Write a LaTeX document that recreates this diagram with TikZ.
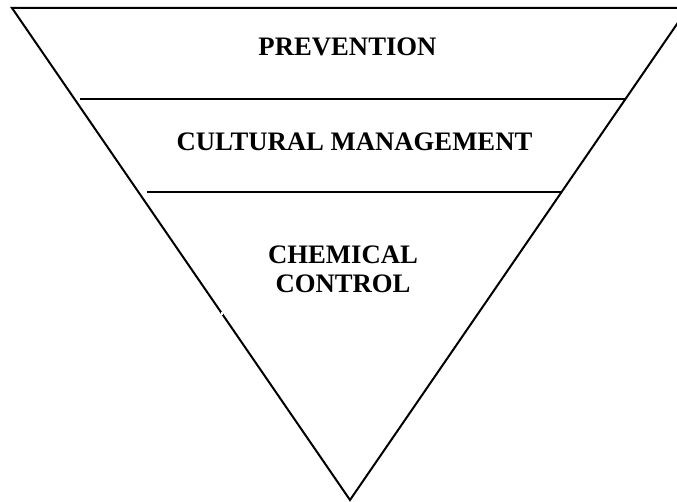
\documentclass[tikz,border=0pt]{standalone}
\usepackage{fontspec}
\setmainfont{Liberation Serif}
\begin{document}
\begin{tikzpicture}[x=1pt,y=-1pt,
  edge/.style={line width=2pt,line cap=butt,line join=miter},
  label/.style={font=\bfseries\fontsize{26.7}{29}\selectfont,align=center,inner sep=0pt,anchor=base}]
\useasboundingbox (0,0) rectangle (677,502);
\clip (0,0) rectangle (677,502);
\coordinate (tl) at (12,8);
\coordinate (tr) at (688,8);
\coordinate (apex) at (350,500);
\draw[edge] (tr) -- (tl) -- (apex) -- cycle;
\draw[edge] (80,99) -- (625.5,99);
\draw[edge] (147,192) -- (561.5,192);
\fill[white] (220.5,312.5) rectangle (223,315.5);
\node[label] (prev) at (347.5,56) {PREVENTION};
\node[label] (cult) at (354.5,151) {CULTURAL MANAGEMENT};
\node[label] (chem) at (343,264) {CHEMICAL};
\node[label] (ctrl) at (343,293) {CONTROL};
\end{tikzpicture}
\end{document}
